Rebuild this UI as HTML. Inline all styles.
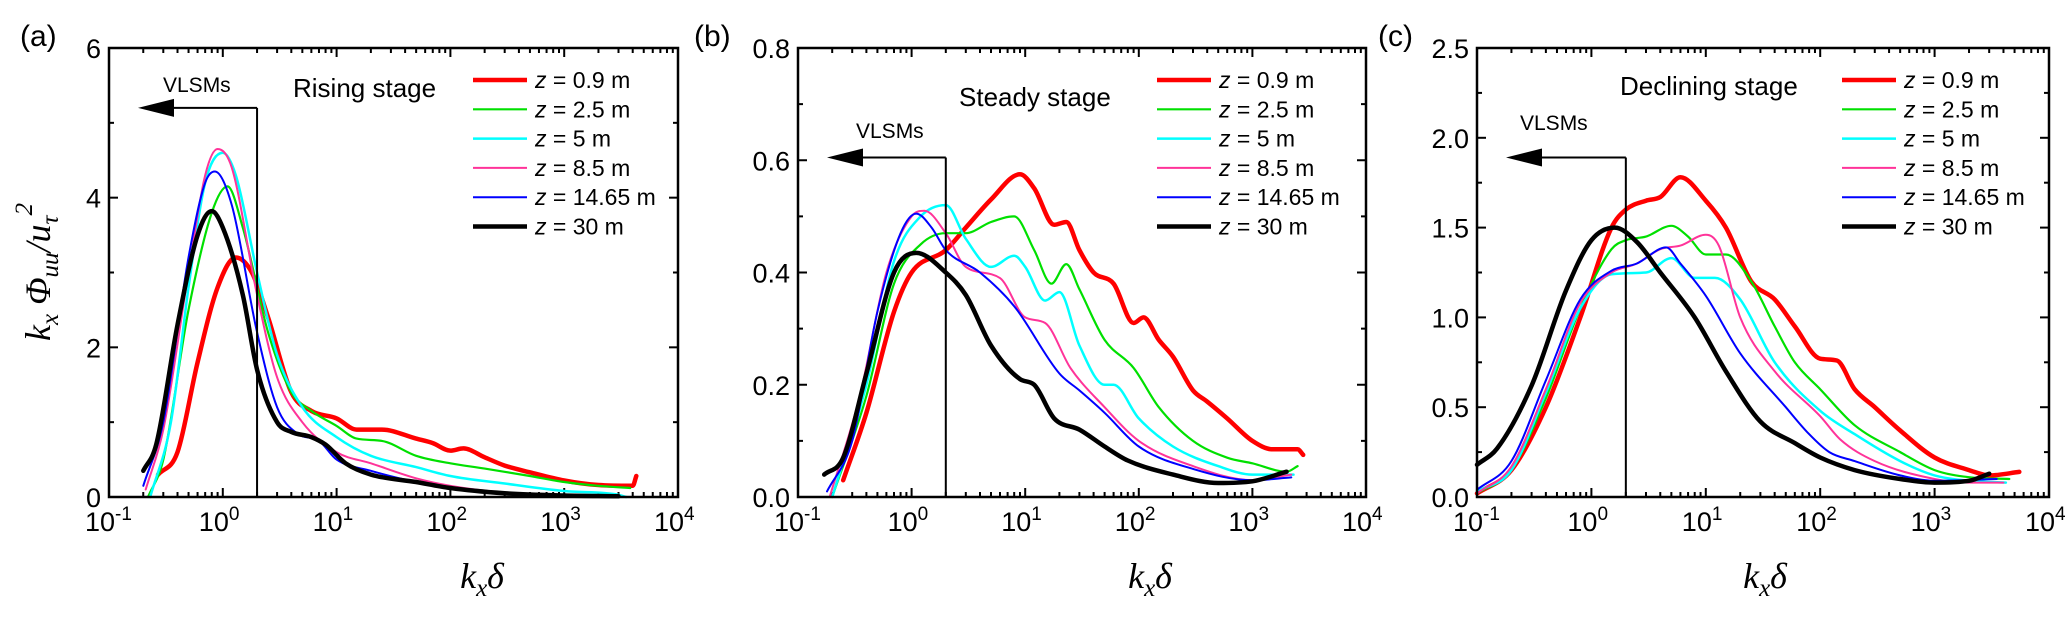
<!DOCTYPE html>
<html><head><meta charset="utf-8">
<style>
html,body{margin:0;padding:0;background:#fff;}
svg{display:block;font-family:"Liberation Sans",sans-serif;}
</style></head>
<body>
<svg id="chart" width="2067" height="618" viewBox="0 0 2067 618" xmlns="http://www.w3.org/2000/svg"></svg>
<script>
// ---------- data ----------
const seriesNames = ["z = 0.9 m","z = 2.5 m","z = 5 m","z = 8.5 m","z = 14.65 m","z = 30 m"];
const seriesColors = ["#ff0000","#00e000","#00ffff","#ff3399","#0000ff","#000000"];
const seriesWidths = [4.5,2.2,2.5,2,2,4.5];

// Panel (a) Rising stage
const aX0=[0.27,0.4,0.6,0.9,1.3,1.8,2.5,4,6,10,15,25,50,70,100,130,200,300,500,1000,2000,4000,4300];
const aY0=[0.3,0.6,1.8,2.8,3.2,3.0,2.4,1.4,1.15,1.05,0.9,0.9,0.78,0.72,0.62,0.65,0.53,0.42,0.33,0.22,0.16,0.15,0.28];
const aX1=[0.22,0.3,0.5,0.8,1.1,1.5,2.5,4,6,10,15,25,50,100,200,500,1000,2000,3800];
const aY1=[0,0.5,2.5,3.8,4.15,3.6,2.2,1.4,1.15,0.95,0.78,0.75,0.55,0.45,0.38,0.28,0.2,0.15,0.12];
const aX2=[0.23,0.35,0.5,0.7,1.0,1.3,2,3,5,10,20,50,100,300,1000,3000,3500];
const aY2=[0,1.0,2.8,4.2,4.6,4.3,3.0,1.9,1.2,0.8,0.55,0.4,0.28,0.18,0.08,0.03,0];
const aX3=[0.21,0.3,0.5,0.7,0.9,1.2,2,3,5,10,20,50,100,300,1000,3000];
const aY3=[0.1,0.9,3.0,4.3,4.65,4.4,2.7,1.6,1.0,0.6,0.45,0.25,0.15,0.06,0.03,0.02];
const aX4=[0.2,0.3,0.5,0.7,0.85,1.2,2,3,4.5,7,10,20,50,100,300,1000,3000];
const aY4=[0.15,1.0,3.2,4.2,4.35,3.9,2.2,1.2,0.85,0.75,0.5,0.35,0.2,0.12,0.05,0.02,0];
const aX5=[0.2,0.26,0.4,0.6,0.8,1.0,1.5,2.0,3,4,6,8,12,20,50,100,300,1000,3000];
const aY5=[0.35,0.7,2.3,3.5,3.82,3.6,2.7,1.7,1.0,0.87,0.8,0.7,0.45,0.3,0.2,0.12,0.05,0.02,0.01];

// Panel (b) Steady stage
const bX0=[0.25,0.4,0.7,1,2,3,5,9,12,18,23,30,40,60,90,110,150,200,300,400,600,1000,1500,2500,2800];
const bY0=[0.03,0.15,0.33,0.40,0.44,0.48,0.53,0.575,0.55,0.485,0.49,0.44,0.40,0.38,0.31,0.32,0.28,0.25,0.19,0.17,0.14,0.10,0.085,0.085,0.075];
const bX1=[0.2,0.4,0.7,1.2,2,3,5,8,12,17,23,30,50,90,150,300,600,1000,2000,2500];
const bY1=[0,0.18,0.38,0.45,0.47,0.47,0.49,0.50,0.44,0.38,0.415,0.37,0.28,0.23,0.16,0.10,0.07,0.06,0.045,0.055];
const bX2=[0.2,0.4,0.7,1.2,2,3,5,8,10,15,20,30,50,60,100,200,500,1000,2300];
const bY2=[0,0.2,0.42,0.50,0.52,0.46,0.41,0.43,0.41,0.35,0.365,0.27,0.20,0.20,0.14,0.09,0.055,0.04,0.04];
const bX3=[0.19,0.35,0.6,1.0,1.3,2,3,6,10,15,25,50,100,300,1000,2200];
const bY3=[0,0.18,0.40,0.50,0.51,0.47,0.41,0.39,0.32,0.31,0.23,0.16,0.10,0.055,0.03,0.04];
const bX4=[0.18,0.3,0.5,0.8,1.1,1.5,2,4,8,20,30,50,100,300,1000,2200];
const bY4=[0.01,0.1,0.33,0.47,0.505,0.48,0.44,0.40,0.34,0.22,0.19,0.15,0.09,0.05,0.03,0.035];
const bX5=[0.17,0.25,0.4,0.7,1.1,2,3,5,9,12,18,30,50,80,200,500,1000,2000];
const bY5=[0.04,0.07,0.22,0.40,0.435,0.40,0.36,0.27,0.21,0.20,0.14,0.12,0.09,0.065,0.04,0.025,0.028,0.045];

// Panel (c) Declining stage
const cX0=[0.1,0.2,0.4,0.8,1.5,2,3,4,6,10,15,25,40,60,100,140,200,300,500,1000,2000,3000,5500];
const cY0=[0.02,0.15,0.5,1.0,1.5,1.6,1.65,1.67,1.78,1.65,1.5,1.2,1.1,0.95,0.77,0.76,0.6,0.5,0.37,0.22,0.15,0.12,0.14];
const cX1=[0.1,0.2,0.4,0.8,1.5,2,3,5,7,10,15,25,40,60,100,200,500,1000,2000,4500];
const cY1=[0.02,0.15,0.55,1.05,1.38,1.43,1.45,1.51,1.45,1.35,1.35,1.2,0.95,0.75,0.6,0.4,0.25,0.15,0.11,0.1];
const cX2=[0.1,0.2,0.4,0.8,1.5,3,5,8,12,20,40,100,200,500,1000,2000,4200];
const cY2=[0.03,0.15,0.58,1.05,1.24,1.25,1.33,1.22,1.22,1.1,0.75,0.48,0.35,0.2,0.12,0.09,0.08];
const cX3=[0.1,0.2,0.4,0.8,1.5,2.5,4,6,10,13,20,40,100,150,300,1000,2000,4000];
const cY3=[0.02,0.17,0.6,1.08,1.25,1.3,1.38,1.4,1.46,1.4,1.0,0.7,0.45,0.32,0.2,0.1,0.08,0.08];
const cX4=[0.1,0.2,0.4,0.8,1.5,2.5,4.5,6,10,20,50,80,120,200,500,1000,3500];
const cY4=[0.04,0.2,0.65,1.1,1.26,1.3,1.39,1.3,1.12,0.8,0.5,0.35,0.25,0.2,0.12,0.09,0.1];
const cX5=[0.1,0.15,0.3,0.6,1.0,1.6,2.5,4,8,15,30,60,100,200,500,1000,2000,3000];
const cY5=[0.18,0.27,0.62,1.15,1.43,1.5,1.42,1.25,1.0,0.7,0.42,0.3,0.22,0.15,0.1,0.08,0.09,0.13];

const aYTicks=[0,2,4,6];
const aYTickLabels=["0","2","4","6"];
const bYTicks=[0,0.2,0.4,0.6,0.8];
const bYTickLabels=["0.0","0.2","0.4","0.6","0.8"];
const cYTicks=[0,0.5,1,1.5,2,2.5];
const cYTickLabels=["0.0","0.5","1.0","1.5","2.0","2.5"];
const xDecades=[-1,0,1,2,3,4];
const vlsmX=[2,2,2];
const vlsmArrowY=[5.2,0.605,1.89];

// ---------- drawing ----------
const NS="http://www.w3.org/2000/svg";
const svg=document.getElementById('chart');
function mk(tag,attrs,parent){const e=document.createElementNS(NS,tag);for(const k in attrs)e.setAttribute(k,attrs[k]);(parent||svg).appendChild(e);return e;}

function smoothPath(px,py){
  const n=px.length;if(n<2)return '';
  const d=[],m=new Array(n);
  for(let i=0;i<n-1;i++)d.push((py[i+1]-py[i])/(px[i+1]-px[i]));
  m[0]=d[0];m[n-1]=d[n-2];
  for(let i=1;i<n-1;i++){m[i]=(d[i-1]*d[i]<=0)?0:(d[i-1]+d[i])/2;}
  for(let i=0;i<n-1;i++){if(d[i]===0){m[i]=0;m[i+1]=0;continue;}
    const a=m[i]/d[i],b=m[i+1]/d[i],s=a*a+b*b;if(s>9){const t=3/Math.sqrt(s);m[i]=t*a*d[i];m[i+1]=t*b*d[i];}}
  let p='M'+px[0].toFixed(1)+','+py[0].toFixed(1);
  for(let i=0;i<n-1;i++){const h=(px[i+1]-px[i])/3;
    p+=' C'+(px[i]+h).toFixed(1)+','+(py[i]+m[i]*h).toFixed(1)+' '+(px[i+1]-h).toFixed(1)+','+(py[i+1]-m[i+1]*h).toFixed(1)+' '+px[i+1].toFixed(1)+','+py[i+1].toFixed(1);}
  return p;
}

function panel(cfg){
  const g=mk('g',{});
  
  
  const L=cfg.left,R=cfg.right,T=48,B=497;
  const sx=v=>L+(Math.log10(v)+1)/5*(R-L);
  const sy=v=>B-v/cfg.ymax*(B-T);
  const tg=mk('g',{stroke:'#000','stroke-width':2},g);
  
  
  for(let d=-1;d<4;d++){for(let m=1;m<10;m++){const x=L+(d+1+Math.log10(m))/5*(R-L);const len=m===1?9:5;
    if(m===1&&d===-1)continue;
    mk('line',{x1:x,x2:x,y1:B,y2:B-len},tg);mk('line',{x1:x,x2:x,y1:T,y2:T+len},tg);}}
  const step=cfg.yticks[1]-cfg.yticks[0];
  for(let v=0;v<=cfg.ymax+1e-9;v+=step/2){const y=sy(v);const major=Math.abs(v/step-Math.round(v/step))<1e-6;const len=major?9:5;
    mk('line',{x1:L,x2:L+len,y1:y,y2:y},tg);mk('line',{x1:R,x2:R-len,y1:y,y2:y},tg);}
  cfg.yticks.forEach((v,i)=>{const t=mk('text',{x:L-8,y:sy(v)+10,'text-anchor':'end','font-size':27},g);t.textContent=cfg.ylabels[i];
    
    });
  xDecades.forEach(d=>{const x=L+(d+1)/5*(R-L);const t=mk('text',{x:x-24,y:531,'text-anchor':'start','font-size':27},g);
    
    
    const a=mk('tspan',{},t);a.textContent='10';const b=mk('tspan',{dy:-11,'font-size':19},t);b.textContent=String(d);});
  cfg.series.forEach((s,i)=>{
    const px=s[0].map(v=>sx(v)),py=s[1].map(v=>sy(v));
    const p=mk('path',{d:smoothPath(px,py),fill:'none',stroke:seriesColors[i],'stroke-width':seriesWidths[i],'stroke-linejoin':'round','stroke-linecap':'round'},g);
    
    
  });
  const vx=sx(vlsmX[cfg.k]),vy=sy(vlsmArrowY[cfg.k]);
  const vl=mk('g',{},g);
  
  
  mk('line',{x1:vx,x2:vx,y1:vy,y2:B,stroke:'#000','stroke-width':2},vl);
  mk('line',{x1:vx,x2:L+60,y1:vy,y2:vy,stroke:'#000','stroke-width':2},vl);
  const ax=L+29;mk('polygon',{points:`${ax},${vy} ${ax+36},${vy-9} ${ax+36},${vy+9}`,fill:'#000'},vl);
  const vt=mk('text',{x:cfg.vlsmTx,y:cfg.vlsmTy,'font-size':21},g);vt.textContent='VLSMs';
  
  
  const fr=mk('rect',{x:L,y:T,width:R-L,height:B-T,fill:'none',stroke:'#000','stroke-width':2.5},g);
  
  
  const tt=mk('text',{x:cfg.titleX,y:cfg.titleY,'font-size':26},g);tt.setAttribute('xml:space','preserve');tt.textContent=cfg.title;
  
  
  const pl=mk('text',{x:cfg.letterX,y:46,'font-size':30},g);pl.textContent=cfg.letter;
  
  
  const lg=mk('g',{},g);
  
  
  seriesNames.forEach((n,i)=>{const y=80+i*29.3;
    const en=mk('g',{},lg);
    
    
    mk('line',{x1:cfg.legX,x2:cfg.legX+54,y1:y,y2:y,stroke:seriesColors[i],'stroke-width':seriesWidths[i]},en);
    const t=mk('text',{x:cfg.legX+62,y:y+8,'font-size':23},en);
    const a=mk('tspan',{'font-style':'italic'},t);a.textContent='z';
    const b=mk('tspan',{},t);b.textContent=n.slice(1);});
  const xt=mk('text',{x:cfg.xtX,y:588,'font-size':36,'font-family':'Liberation Serif, serif','font-style':'italic','text-anchor':'middle'},g);
  
  
  const k1=mk('tspan',{},xt);k1.textContent='k';const k2=mk('tspan',{dy:8,'font-size':25},xt);k2.textContent='x';const k3=mk('tspan',{dy:-8},xt);k3.textContent='δ';
}

panel({id:'a',k:0,left:109,right:678,ymax:6,yticks:aYTicks,ylabels:aYTickLabels,title:'Rising  stage',titleX:293,titleY:97,letter:'(a)',letterX:20,legX:473,vlsmTx:163,vlsmTy:92,xtX:482,
  series:[[aX0,aY0],[aX1,aY1],[aX2,aY2],[aX3,aY3],[aX4,aY4],[aX5,aY5]]});
panel({id:'b',k:1,left:798,right:1366,ymax:0.8,yticks:bYTicks,ylabels:bYTickLabels,title:'Steady  stage',titleX:959,titleY:106,letter:'(b)',letterX:694,legX:1157,vlsmTx:856,vlsmTy:138,xtX:1150,
  series:[[bX0,bY0],[bX1,bY1],[bX2,bY2],[bX3,bY3],[bX4,bY4],[bX5,bY5]]});
panel({id:'c',k:2,left:1477,right:2049,ymax:2.5,yticks:cYTicks,ylabels:cYTickLabels,title:'Declining  stage',titleX:1620,titleY:95,letter:'(c)',letterX:1378,legX:1842,vlsmTx:1520,vlsmTy:130,xtX:1765,
  series:[[cX0,cY0],[cX1,cY1],[cX2,cY2],[cX3,cY3],[cX4,cY4],[cX5,cY5]]});

const yt=mk('text',{transform:'translate(50,272) rotate(-90)','font-size':36,'font-family':'Liberation Serif, serif','font-style':'italic','text-anchor':'middle'});


[['k',0,36],['x',8,25],[' Φ',-8,36],['uu',8,25],['/u',-8,36],['τ',8,25],['2',-26,25]].forEach(p=>{const s=mk('tspan',{dy:p[1],'font-size':p[2]},yt);s.textContent=p[0];});
</script>
</body></html>
